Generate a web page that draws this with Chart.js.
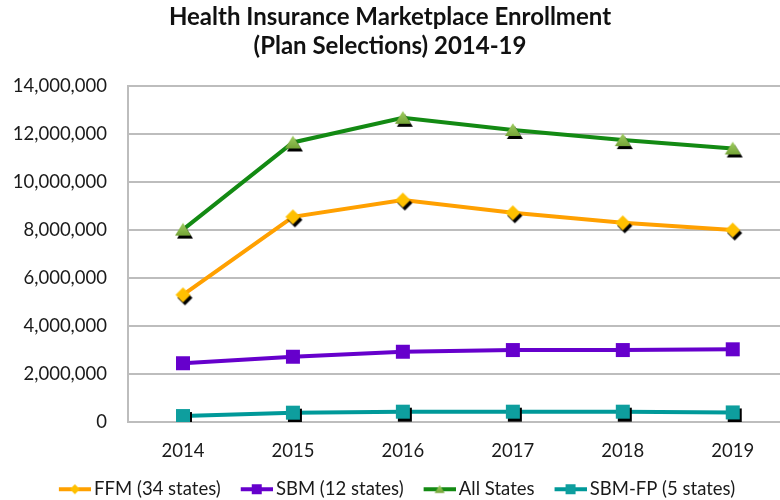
<!DOCTYPE html>
<html>
<head>
<meta charset="utf-8">
<script src="https://cdn.jsdelivr.net/npm/chart.js@4"></script>
<style>
  html, body { margin: 0; padding: 0; background: #fff; }
  #wrap { width: 780px; height: 500px; }
</style>
</head>
<body>
<div id="wrap"><canvas id="enrollChart"></canvas></div>
<script>
// Plan selections by year
const years = [2014, 2015, 2016, 2017, 2018, 2019];
const ffm = [5300000, 8550000, 9250000, 8720000, 8300000, 8000000];
const sbm = [2450000, 2720000, 2930000, 3000000, 3000000, 3030000];
const allStates = [8020000, 11650000, 12680000, 12170000, 11750000, 11400000];
const sbmFp = [250000, 390000, 430000, 430000, 430000, 400000];
const seriesNames = ['FFM (34 states)', 'SBM (12 states)', 'All States', 'SBM-FP (5 states)'];

// draws one marker shape (plus optional black drop shadow) into a small canvas
function shapePath(ctx, kind, cx, cy, s) {
    ctx.beginPath();
    if (kind === 'diamond') {
        ctx.moveTo(cx, cy - s); ctx.lineTo(cx + s, cy); ctx.lineTo(cx, cy + s); ctx.lineTo(cx - s, cy);
    } else if (kind === 'triangle') {
        ctx.moveTo(cx, cy - s * 0.85); ctx.lineTo(cx + s, cy + s * 0.75); ctx.lineTo(cx - s, cy + s * 0.75);
    } else {
        ctx.rect(cx - s, cy - s, 2 * s, 2 * s);
    }
    ctx.closePath();
}

function makeMarker(kind, fill, s, shadow, lineColor, lineLen) {
    const pad = 4;
    const markerW = 2 * (s + pad);
    const w = lineLen ? lineLen.total : markerW;
    const c = document.createElement('canvas');
    c.width = w;
    c.height = markerW;
    const ctx = c.getContext('2d');
    const cy = markerW / 2;
    let cx = w / 2;
    if (lineLen) {
        ctx.strokeStyle = lineColor;
        ctx.lineWidth = 4;
        ctx.beginPath();
        ctx.moveTo(w - lineLen.line, cy);
        ctx.lineTo(w, cy);
        ctx.stroke();
        cx = w - lineLen.line / 2;
    }
    if (shadow) {
        ctx.fillStyle = '#000';
        shapePath(ctx, kind, cx + 2, cy + 3, s);
        ctx.fill();
    }
    if (Array.isArray(fill)) {
        const g = ctx.createLinearGradient(0, cy - s, 0, cy + s);
        g.addColorStop(0, fill[0]);
        g.addColorStop(1, fill[1]);
        ctx.fillStyle = g;
    } else {
        ctx.fillStyle = fill;
    }
    shapePath(ctx, kind, cx, cy, s);
    ctx.fill();
    return c;
}

const styles = [
    { line: '#FFA000', kind: 'diamond', fill: '#FFC000', size: 7.5, shadow: true },
    { line: '#6600CC', kind: 'square', fill: '#6600CC', size: 7, shadow: false },
    { line: '#138A13', kind: 'triangle', fill: ['#A4D166', '#6E9E30'], size: 8, shadow: true },
    { line: '#009999', kind: 'square', fill: '#0E9E9E', size: 7, shadow: true }
];
const values = [ffm, sbm, allStates, sbmFp];

const datasets = values.map((vals, i) => ({
    label: seriesNames[i],
    data: years.map((yr, j) => ({ x: yr, y: vals[j] })),
    borderColor: styles[i].line,
    backgroundColor: styles[i].line,
    borderWidth: 4,
    tension: 0,
    pointStyle: makeMarker(styles[i].kind, styles[i].fill, styles[i].size, styles[i].shadow),
    pointRadius: 7,
    pointHoverRadius: 7
}));
// draw the totals on top like the original
const order = [3, 1, 0, 2];
order.forEach((idx, k) => { datasets[idx].order = 4 - k; });

const legendIcons = styles.map(st => makeMarker(st.kind, st.fill, 5, false, st.line, { total: 52, line: 32 }));

const ctx = document.getElementById('enrollChart').getContext('2d');
const enrollChart = new Chart(ctx, {
    type: 'line',
    data: { datasets: datasets },
    options: {
        responsive: true,
        maintainAspectRatio: false,
        animation: false,
        layout: { padding: 0, autoPadding: false },
        scales: {
            x: {
                type: 'linear',
                min: 2013.5,
                max: 2019.43,
                afterFit: s => { s.height = 52; s.paddingRight = 0; s.paddingLeft = 0; },
                grid: { display: false },
                border: { display: true, color: '#BDBDBD', width: 2 },
                ticks: {
                    stepSize: 1,
                    includeBounds: false,
                    padding: 10,
                    color: '#1a1a1a',
                    font: { family: 'Lato', size: 18.5 },
                    callback: v => Number.isInteger(v) ? String(v) : ''
                }
            },
            y: {
                min: 0,
                max: 14000000,
                afterFit: s => { s.width = 128; },
                grid: { color: '#BDBDBD', lineWidth: 2, drawTicks: false },
                border: { display: true, color: '#BDBDBD', width: 2 },
                ticks: {
                    stepSize: 2000000,
                    padding: 21,
                    color: '#1a1a1a',
                    font: { family: 'Lato', size: 18.5 },
                    callback: v => v.toLocaleString('en-US')
                }
            }
        },
        plugins: {
            title: {
                display: true,
                text: ['Health Insurance Marketplace Enrollment', '(Plan Selections) 2014-19'],
                color: '#111',
                font: { family: 'Lato', size: 24, weight: 'bold', lineHeight: 1.21 },
                padding: { top: 2.5, bottom: 25.5 }
            },
            legend: {
                position: 'bottom',
                maxHeight: 26,
                labels: {
                    usePointStyle: true,
                    pointStyleWidth: 40,
                    padding: 6,
                    color: '#1a1a1a',
                    font: { family: 'Lato', size: 18.5 },
                    generateLabels: chart => chart.data.datasets.map((ds, i) => ({
                        text: ds.label,
                        pointStyle: legendIcons[i],
                        datasetIndex: i,
                        hidden: false,
                        lineWidth: 0,
                        fontColor: '#1a1a1a'
                    }))
                }
            },
            tooltip: { enabled: false }
        }
    }
});
</script>
</body>
</html>
